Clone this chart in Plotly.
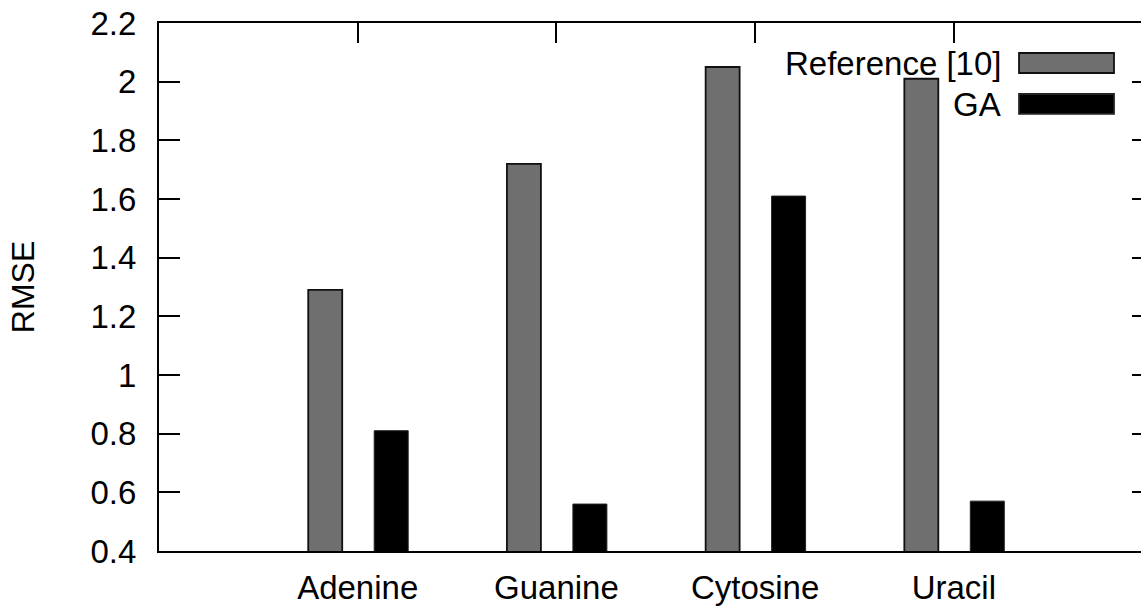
import plotly.graph_objects as go

categories = ["Adenine", "Guanine", "Cytosine", "Uracil"]
reference_rmse = [1.29, 1.72, 2.05, 2.01]
ga_rmse = [0.81, 0.56, 1.61, 0.57]
series_names = ["Reference [10]", "GA"]
y_title = "RMSE"

FONT = "Liberation Sans, Arial, sans-serif"
FS = 33
REF_COLOR = "#6f6f6f"
GA_COLOR = "#000000"

fig = go.Figure()
fig.add_trace(go.Bar(
    x=categories, y=reference_rmse, name=series_names[0],
    width=0.171, offset=-0.249, base=0,
    marker=dict(color=REF_COLOR, line=dict(color="#111111", width=1.8)),
    showlegend=False,
))
fig.add_trace(go.Bar(
    x=categories, y=ga_rmse, name=series_names[1],
    width=0.171, offset=0.083, base=0,
    marker=dict(color=GA_COLOR, line=dict(color="#222222", width=1)),
    showlegend=False,
))
# invisible trace to carry the mirrored top/right tick axes
fig.add_trace(go.Scatter(
    x=categories, y=reference_rmse, xaxis="x2", yaxis="y2",
    mode="markers", marker=dict(opacity=0), hoverinfo="skip", showlegend=False,
))

xr = [-1, 3.942]
yr = [0.4, 2.2]

fig.update_layout(
    width=1141, height=607,
    margin=dict(l=159, r=0, t=23, b=56, autoexpand=False),
    paper_bgcolor="white", plot_bgcolor="white",
    font=dict(family=FONT, size=FS, color="black"),
    barmode="overlay",
    xaxis=dict(
        type="category", categoryorder="array", categoryarray=categories,
        range=xr, showgrid=False, zeroline=False, automargin=False,
        showline=True, linecolor="black", linewidth=2, mirror=True,
        ticks="", ticklabelstandoff=6,
    ),
    yaxis=dict(
        range=yr, dtick=0.2, tick0=0.4, showgrid=False, zeroline=False,
        automargin=False,
        showline=True, linecolor="black", linewidth=2,
        ticks="inside", ticklen=21, tickwidth=1.5, tickcolor="black",
        ticklabelstandoff=14,
        title=dict(text=y_title, font=dict(size=32), standoff=46),
    ),
    xaxis2=dict(
        type="category", categoryorder="array", categoryarray=categories,
        range=xr, overlaying="x", side="top", anchor="y2",
        showgrid=False, zeroline=False, showline=False,
        ticks="inside", ticklen=20, tickwidth=1.5, tickcolor="black",
        showticklabels=False,
    ),
    yaxis2=dict(
        range=yr, dtick=0.2, tick0=0.4, overlaying="y", side="right", anchor="x2",
        showgrid=False, zeroline=False, showline=False,
        ticks="inside", ticklen=9, tickwidth=1.5, tickcolor="black",
        showticklabels=False,
    ),
)

# gnuplot-style key: label on the left, sample box on the right
key_rows = [
    (series_names[0], REF_COLOR, "#111111", 0.9432, 0.9053, 0.924),
    (series_names[1], GA_COLOR, "#222222", 0.8655, 0.8277, 0.846),
]
for label, fill, edge, y1, y0, yc in key_rows:
    fig.add_annotation(
        x=0.859, y=yc, xref="paper", yref="paper", text=label,
        showarrow=False, xanchor="right", yanchor="middle",
        font=dict(family=FONT, size=FS, color="black"),
    )
    fig.add_shape(
        type="rect", xref="paper", yref="paper",
        x0=0.8758, x1=0.9725, y0=y0, y1=y1,
        fillcolor=fill, line=dict(color=edge, width=1.8),
    )

fig.write_html(
    "out.html",
    config={"displayModeBar": False},
    post_script="document.body.style.margin='0';document.body.style.overflow='hidden';",
)
